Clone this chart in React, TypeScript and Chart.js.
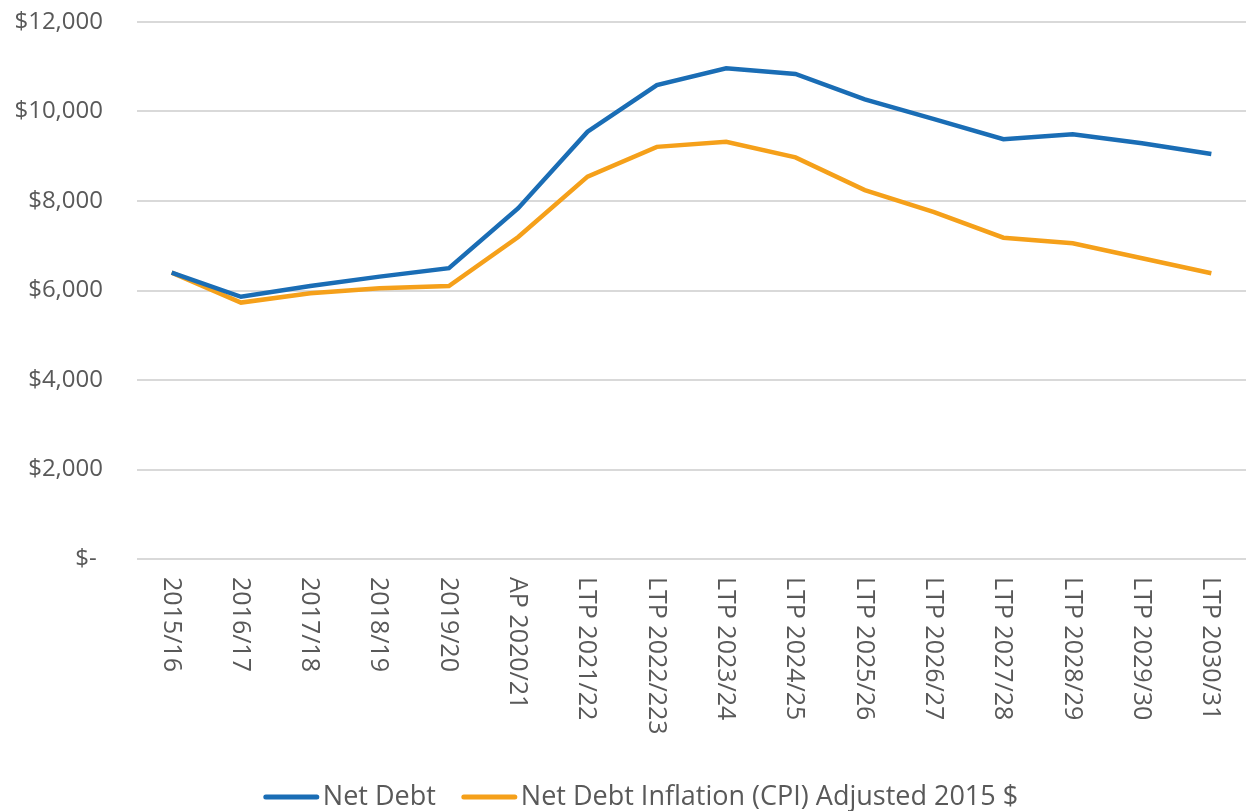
import React, { useEffect, useRef } from "react";
import { Chart, registerables } from "chart.js";

Chart.register(...registerables);

const categories = [
  "2015/16", "2016/17", "2017/18", "2018/19", "2019/20", "AP 2020/21",
  "LTP 2021/22", "LTP 2022/223", "LTP 2023/24", "LTP 2024/25", "LTP 2025/26",
  "LTP 2026/27", "LTP 2027/28", "LTP 2028/29", "LTP 2029/30", "LTP 2030/31",
];
const netDebt = [6400, 5860, 6100, 6310, 6500, 7840, 9550, 10590, 10965, 10840, 10270, 9830, 9380, 9490, 9290, 9050];
const netDebtCPI = [6400, 5730, 5940, 6050, 6100, 7195, 8545, 9210, 9325, 8975, 8245, 7750, 7180, 7055, 6720, 6385];
const seriesNames = ["Net Debt", "Net Debt Inflation (CPI) Adjusted 2015 $"];
const seriesColors = ["#1a6db5", "#f5a01a"];
const yTicks = [0, 2000, 4000, 6000, 8000, 10000, 12000];

const FONT = "'Open Sans', Lato, sans-serif";
const TEXT = "#595959";

const labelsPlugin = {
  id: "customLabels",
  afterDraw(chart: any) {
    const { ctx, chartArea } = chart;
    const xs = chart.scales.x;
    ctx.save();
    ctx.fillStyle = TEXT;
    ctx.font = `25px ${FONT}`;
    ctx.textAlign = "left";
    ctx.textBaseline = "middle";
    categories.forEach((c, i) => {
      const x = xs.getPixelForValue(i);
      ctx.save();
      ctx.translate(x, chartArea.bottom + 18);
      ctx.rotate(Math.PI / 2);
      ctx.fillText(c, 0, 1);
      ctx.restore();
    });
    // legend
    ctx.font = `27px ${FONT}`;
    const sw = 55, gapT = 4, gapItem = 26;
    const widths = seriesNames.map((n) => ctx.measureText(n).width);
    const total = widths.reduce((a, w) => a + sw + gapT + w, 0) + gapItem * (seriesNames.length - 1);
    let x = 641 - total / 2;
    const y = 797;
    seriesNames.forEach((n, i) => {
      ctx.strokeStyle = seriesColors[i];
      ctx.lineWidth = 5;
      ctx.lineCap = "round";
      ctx.beginPath();
      ctx.moveTo(x + 2, y);
      ctx.lineTo(x + sw - 2, y);
      ctx.stroke();
      ctx.fillStyle = TEXT;
      ctx.textAlign = "left";
      ctx.textBaseline = "middle";
      ctx.fillText(n, x + sw + gapT, y);
      x += sw + gapT + widths[i] + gapItem;
    });
    ctx.restore();
  },
};

export default function App() {
  const ref = useRef<HTMLCanvasElement>(null);
  useEffect(() => {
    document.body.style.margin = "0";
    const chart = new Chart(ref.current!, {
      type: "line",
      data: {
        labels: categories,
        datasets: [
          { label: seriesNames[0], data: netDebt, borderColor: seriesColors[0], backgroundColor: seriesColors[0], borderWidth: 4.5, pointRadius: 0, tension: 0 },
          { label: seriesNames[1], data: netDebtCPI, borderColor: seriesColors[1], backgroundColor: seriesColors[1], borderWidth: 4.5, pointRadius: 0, tension: 0 },
        ],
      },
      options: {
        responsive: false,
        animation: false,
        layout: { padding: { top: 22, right: 0, left: 0, bottom: 0 } },
        plugins: { legend: { display: false }, tooltip: { enabled: false } },
        scales: {
          x: {
            offset: true,
            grid: { display: false, drawTicks: false },
            border: { display: false },
            ticks: { display: false },
            afterFit: (s: any) => { s.height = 252; s.paddingLeft = 0; s.paddingRight = 0; },
          },
          y: {
            min: 0,
            max: 12000,
            afterBuildTicks: (s: any) => { s.ticks = yTicks.map((v) => ({ value: v })); },
            grid: { color: "#d9d9d9", lineWidth: 2, drawTicks: false },
            border: { display: false },
            ticks: {
              padding: 34,
              color: TEXT,
              font: { family: FONT, size: 24 },
              callback: (v: any) => (Number(v) === 0 ? "$- " : "$" + Number(v).toLocaleString("en-US")),
            },
            afterFit: (s: any) => { s.width = 137; s.paddingTop = 0; s.paddingBottom = 0; },
          },
        },
      },
      plugins: [labelsPlugin],
    });
    return () => chart.destroy();
  }, []);
  return (
    <div style={{ position: "absolute", left: 0, top: 0, width: 1246, height: 811, background: "#fff" }}>
      <canvas ref={ref} width={1246} height={811} />
    </div>
  );
}
